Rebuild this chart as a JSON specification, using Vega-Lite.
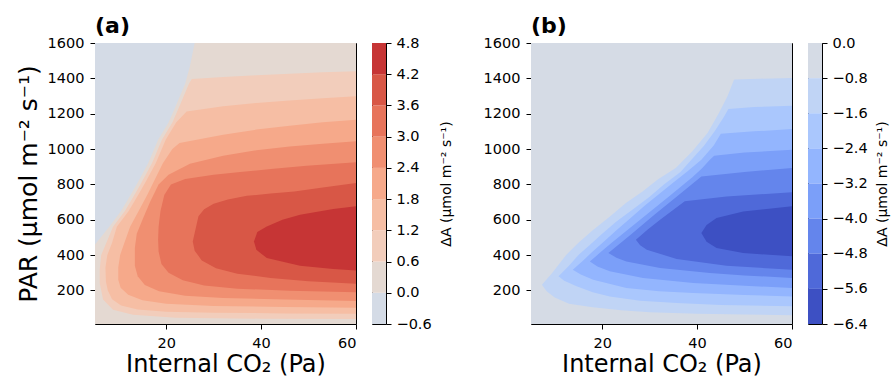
{
  "$schema": "https://vega.github.io/schema/vega-lite/v6.json",
  "padding": {"left": 15, "top": 14, "right": 5, "bottom": 0},
  "config": {
    "font": "DejaVu Sans",
    "view": {"stroke": "#000", "strokeWidth": 1},
    "axis": {"labelFontSize": 14.5, "labelColor": "#000", "tickColor": "#000", "tickSize": 5, "tickWidth": 1, "domain": false, "grid": false, "titleFontWeight": "normal", "titleColor": "#000"}
  },
  "datasets": {
    "a": [
      {"lev":-0.6,"x":5,"y":10},{"lev":-0.6,"x":5,"y":1600},
      {"lev":0,"x":5,"y":10},{"lev":0,"x":5,"y":460},{"lev":0,"x":8,"y":560},{"lev":0,"x":10.5,"y":650},{"lev":0,"x":12.5,"y":740},{"lev":0,"x":14,"y":810},{"lev":0,"x":16.2,"y":920},{"lev":0,"x":18.3,"y":1053},{"lev":0,"x":20.5,"y":1150},{"lev":0,"x":22,"y":1242},{"lev":0,"x":24,"y":1370},{"lev":0,"x":25,"y":1468},{"lev":0,"x":26,"y":1600},
      {"lev":0.6,"x":60,"y":38},{"lev":0.6,"x":40,"y":40},{"lev":0.6,"x":22,"y":46},{"lev":0.6,"x":13,"y":62},{"lev":0.6,"x":8.8,"y":90},{"lev":0.6,"x":6.7,"y":148},{"lev":0.6,"x":6,"y":240},{"lev":0.6,"x":6,"y":320},{"lev":0.6,"x":6.3,"y":400},{"lev":0.6,"x":7.4,"y":470},{"lev":0.6,"x":8.8,"y":560},{"lev":0.6,"x":11.3,"y":650},{"lev":0.6,"x":13.3,"y":740},{"lev":0.6,"x":14.8,"y":810},{"lev":0.6,"x":17,"y":920},{"lev":0.6,"x":19.1,"y":1053},{"lev":0.6,"x":21.3,"y":1150},{"lev":0.6,"x":22.8,"y":1242},{"lev":0.6,"x":24.8,"y":1370},{"lev":0.6,"x":25.4,"y":1396},{"lev":0.6,"x":32,"y":1408},{"lev":0.6,"x":39,"y":1417},{"lev":0.6,"x":46,"y":1426},{"lev":0.6,"x":53,"y":1434},{"lev":0.6,"x":60,"y":1440},
      {"lev":1.2,"x":60,"y":68},{"lev":1.2,"x":45,"y":70},{"lev":1.2,"x":30,"y":74},{"lev":1.2,"x":20,"y":80},{"lev":1.2,"x":14,"y":92},{"lev":1.2,"x":10.5,"y":115},{"lev":1.2,"x":8.6,"y":150},{"lev":1.2,"x":7.7,"y":200},{"lev":1.2,"x":7.3,"y":250},{"lev":1.2,"x":7.2,"y":330},{"lev":1.2,"x":7.6,"y":400},{"lev":1.2,"x":8.6,"y":470},{"lev":1.2,"x":9.6,"y":560},{"lev":1.2,"x":12.1,"y":650},{"lev":1.2,"x":14.1,"y":740},{"lev":1.2,"x":15.6,"y":810},{"lev":1.2,"x":17.8,"y":920},{"lev":1.2,"x":19.9,"y":1053},{"lev":1.2,"x":22.1,"y":1150},{"lev":1.2,"x":24.3,"y":1213},{"lev":1.2,"x":32,"y":1242},{"lev":1.2,"x":39,"y":1261},{"lev":1.2,"x":46,"y":1274},{"lev":1.2,"x":53,"y":1287},{"lev":1.2,"x":60,"y":1298},
      {"lev":1.8,"x":60,"y":102},{"lev":1.8,"x":45,"y":106},{"lev":1.8,"x":30,"y":112},{"lev":1.8,"x":20,"y":125},{"lev":1.8,"x":15,"y":145},{"lev":1.8,"x":12,"y":175},{"lev":1.8,"x":10.4,"y":215},{"lev":1.8,"x":9.9,"y":260},{"lev":1.8,"x":9.9,"y":330},{"lev":1.8,"x":10.3,"y":400},{"lev":1.8,"x":11.2,"y":470},{"lev":1.8,"x":12.4,"y":560},{"lev":1.8,"x":14.2,"y":650},{"lev":1.8,"x":16,"y":740},{"lev":1.8,"x":17.3,"y":810},{"lev":1.8,"x":19.3,"y":920},{"lev":1.8,"x":21.3,"y":1000},{"lev":1.8,"x":22.8,"y":1034},{"lev":1.8,"x":32,"y":1081},{"lev":1.8,"x":39,"y":1110},{"lev":1.8,"x":46,"y":1132},{"lev":1.8,"x":53,"y":1151},{"lev":1.8,"x":60,"y":1166},
      {"lev":2.4,"x":60,"y":140},{"lev":2.4,"x":45,"y":148},{"lev":2.4,"x":32,"y":157},{"lev":2.4,"x":24,"y":170},{"lev":2.4,"x":18.5,"y":195},{"lev":2.4,"x":15.5,"y":230},{"lev":2.4,"x":14,"y":280},{"lev":2.4,"x":13.4,"y":340},{"lev":2.4,"x":13.4,"y":440},{"lev":2.4,"x":13.8,"y":520},{"lev":2.4,"x":15,"y":600},{"lev":2.4,"x":16.6,"y":700},{"lev":2.4,"x":18.4,"y":800},{"lev":2.4,"x":20.5,"y":855},{"lev":2.4,"x":25,"y":917},{"lev":2.4,"x":32,"y":962},{"lev":2.4,"x":39,"y":993},{"lev":2.4,"x":46,"y":1015},{"lev":2.4,"x":53,"y":1030},{"lev":2.4,"x":60,"y":1044},
      {"lev":3,"x":60,"y":189},{"lev":3,"x":46,"y":198},{"lev":3,"x":35,"y":210},{"lev":3,"x":28,"y":228},{"lev":3,"x":23.5,"y":258},{"lev":3,"x":20.5,"y":300},{"lev":3,"x":19,"y":350},{"lev":3,"x":18.4,"y":420},{"lev":3,"x":18.3,"y":487},{"lev":3,"x":18.4,"y":560},{"lev":3,"x":18.8,"y":650},{"lev":3,"x":19.6,"y":740},{"lev":3,"x":21,"y":800},{"lev":3,"x":24,"y":830},{"lev":3,"x":30,"y":855},{"lev":3,"x":35.6,"y":870},{"lev":3,"x":42.6,"y":888},{"lev":3,"x":49.6,"y":906},{"lev":3,"x":60,"y":925},
      {"lev":3.6,"x":60,"y":238},{"lev":3.6,"x":50,"y":252},{"lev":3.6,"x":42,"y":270},{"lev":3.6,"x":35,"y":295},{"lev":3.6,"x":30.5,"y":325},{"lev":3.6,"x":27.5,"y":370},{"lev":3.6,"x":26,"y":425},{"lev":3.6,"x":25.6,"y":477},{"lev":3.6,"x":26.3,"y":560},{"lev":3.6,"x":26.8,"y":619},{"lev":3.6,"x":28,"y":660},{"lev":3.6,"x":30,"y":690},{"lev":3.6,"x":33,"y":715},{"lev":3.6,"x":37,"y":735},{"lev":3.6,"x":42,"y":748},{"lev":3.6,"x":47,"y":760},{"lev":3.6,"x":53,"y":783},{"lev":3.6,"x":60,"y":808},
      {"lev":4.2,"x":60,"y":313},{"lev":4.2,"x":55.2,"y":321},{"lev":4.2,"x":48.2,"y":340},{"lev":4.2,"x":41.2,"y":383},{"lev":4.2,"x":39,"y":430},{"lev":4.2,"x":38.5,"y":477},{"lev":4.2,"x":39.2,"y":530},{"lev":4.2,"x":41.2,"y":562},{"lev":4.2,"x":44.5,"y":600},{"lev":4.2,"x":48.2,"y":628},{"lev":4.2,"x":55.2,"y":661},{"lev":4.2,"x":60,"y":676}
    ],
    "b": [
      {"lev":0,"x":5,"y":10},{"lev":0,"x":5,"y":1600},
      {"lev":-0.8,"x":60,"y":60},{"lev":-0.8,"x":50,"y":64},{"lev":-0.8,"x":40,"y":68},{"lev":-0.8,"x":30,"y":76},{"lev":-0.8,"x":24,"y":88},{"lev":-0.8,"x":18,"y":105},{"lev":-0.8,"x":13,"y":125},{"lev":-0.8,"x":10,"y":160},{"lev":-0.8,"x":8.3,"y":195},{"lev":-0.8,"x":7.3,"y":232},{"lev":-0.8,"x":9.5,"y":300},{"lev":-0.8,"x":12.4,"y":400},{"lev":-0.8,"x":15,"y":470},{"lev":-0.8,"x":18,"y":540},{"lev":-0.8,"x":21.5,"y":615},{"lev":-0.8,"x":25,"y":694},{"lev":-0.8,"x":28.5,"y":760},{"lev":-0.8,"x":31.7,"y":827},{"lev":-0.8,"x":35.5,"y":893},{"lev":-0.8,"x":39,"y":987},{"lev":-0.8,"x":42.2,"y":1091},{"lev":-0.8,"x":44.6,"y":1204},{"lev":-0.8,"x":46.4,"y":1298},{"lev":-0.8,"x":47.8,"y":1393},{"lev":-0.8,"x":53,"y":1398},{"lev":-0.8,"x":60,"y":1402},
      {"lev":-1.6,"x":60,"y":110},{"lev":-1.6,"x":45,"y":118},{"lev":-1.6,"x":35.7,"y":129},{"lev":-1.6,"x":28,"y":142},{"lev":-1.6,"x":21.6,"y":166},{"lev":-1.6,"x":18,"y":190},{"lev":-1.6,"x":14.6,"y":223},{"lev":-1.6,"x":12,"y":255},{"lev":-1.6,"x":10.8,"y":280},{"lev":-1.6,"x":13,"y":340},{"lev":-1.6,"x":15,"y":400},{"lev":-1.6,"x":17.5,"y":460},{"lev":-1.6,"x":20,"y":520},{"lev":-1.6,"x":23,"y":590},{"lev":-1.6,"x":26.5,"y":660},{"lev":-1.6,"x":30,"y":730},{"lev":-1.6,"x":33,"y":800},{"lev":-1.6,"x":36.5,"y":870},{"lev":-1.6,"x":38.8,"y":940},{"lev":-1.6,"x":41.5,"y":1020},{"lev":-1.6,"x":43.7,"y":1100},{"lev":-1.6,"x":45.6,"y":1180},{"lev":-1.6,"x":46.6,"y":1227},{"lev":-1.6,"x":52,"y":1238},{"lev":-1.6,"x":60,"y":1245},
      {"lev":-2.4,"x":60,"y":166},{"lev":-2.4,"x":50,"y":174},{"lev":-2.4,"x":39.2,"y":185},{"lev":-2.4,"x":32,"y":196},{"lev":-2.4,"x":25.1,"y":214},{"lev":-2.4,"x":18.1,"y":261},{"lev":-2.4,"x":15.5,"y":290},{"lev":-2.4,"x":13.8,"y":317},{"lev":-2.4,"x":16,"y":370},{"lev":-2.4,"x":18,"y":420},{"lev":-2.4,"x":20.5,"y":480},{"lev":-2.4,"x":23,"y":540},{"lev":-2.4,"x":26,"y":610},{"lev":-2.4,"x":29,"y":680},{"lev":-2.4,"x":32,"y":745},{"lev":-2.4,"x":35,"y":810},{"lev":-2.4,"x":38,"y":875},{"lev":-2.4,"x":40.9,"y":940},{"lev":-2.4,"x":43.5,"y":1020},{"lev":-2.4,"x":45,"y":1087},{"lev":-2.4,"x":52,"y":1100},{"lev":-2.4,"x":60,"y":1113},
      {"lev":-3.2,"x":60,"y":214},{"lev":-3.2,"x":50,"y":226},{"lev":-3.2,"x":39.2,"y":242},{"lev":-3.2,"x":28.6,"y":270},{"lev":-3.2,"x":21.6,"y":308},{"lev":-3.2,"x":19,"y":335},{"lev":-3.2,"x":17.4,"y":364},{"lev":-3.2,"x":19.7,"y":417},{"lev":-3.2,"x":22,"y":470},{"lev":-3.2,"x":25,"y":535},{"lev":-3.2,"x":28,"y":600},{"lev":-3.2,"x":31,"y":665},{"lev":-3.2,"x":34,"y":730},{"lev":-3.2,"x":36.5,"y":785},{"lev":-3.2,"x":39,"y":840},{"lev":-3.2,"x":41,"y":890},{"lev":-3.2,"x":42.7,"y":940},{"lev":-3.2,"x":43.6,"y":962},{"lev":-3.2,"x":50,"y":980},{"lev":-3.2,"x":60,"y":996},
      {"lev":-4,"x":60,"y":270},{"lev":-4,"x":50,"y":285},{"lev":-4,"x":42.7,"y":299},{"lev":-4,"x":32.2,"y":327},{"lev":-4,"x":25.1,"y":364},{"lev":-4,"x":23,"y":385},{"lev":-4,"x":21.3,"y":412},{"lev":-4,"x":26,"y":515},{"lev":-4,"x":31,"y":628},{"lev":-4,"x":36,"y":737},{"lev":-4,"x":40.9,"y":845},{"lev":-4,"x":50,"y":870},{"lev":-4,"x":60,"y":893},
      {"lev":-4.8,"x":60,"y":317},{"lev":-4.8,"x":46.2,"y":340},{"lev":-4.8,"x":35.7,"y":378},{"lev":-4.8,"x":29.4,"y":430},{"lev":-4.8,"x":28,"y":455},{"lev":-4.8,"x":27.1,"y":487},{"lev":-4.8,"x":29.6,"y":545},{"lev":-4.8,"x":32.2,"y":600},{"lev":-4.8,"x":34.8,"y":652},{"lev":-4.8,"x":37.4,"y":704},{"lev":-4.8,"x":46.2,"y":732},{"lev":-4.8,"x":60,"y":755},
      {"lev":-5.6,"x":60,"y":393},{"lev":-5.6,"x":49.7,"y":412},{"lev":-5.6,"x":44.1,"y":440},{"lev":-5.6,"x":42,"y":475},{"lev":-5.6,"x":40.9,"y":525},{"lev":-5.6,"x":42,"y":570},{"lev":-5.6,"x":44.1,"y":610},{"lev":-5.6,"x":49.7,"y":647},{"lev":-5.6,"x":60,"y":676}
    ],
    "cba": [
      {"lev":-0.6,"lo":-0.6,"hi":0},{"lev":0,"lo":0,"hi":0.6},{"lev":0.6,"lo":0.6,"hi":1.2},{"lev":1.2,"lo":1.2,"hi":1.8},{"lev":1.8,"lo":1.8,"hi":2.4},{"lev":2.4,"lo":2.4,"hi":3},{"lev":3,"lo":3,"hi":3.6},{"lev":3.6,"lo":3.6,"hi":4.2},{"lev":4.2,"lo":4.2,"hi":4.8}
    ],
    "cbb": [
      {"lev":0,"lo":-0.8,"hi":0},{"lev":-0.8,"lo":-1.6,"hi":-0.8},{"lev":-1.6,"lo":-2.4,"hi":-1.6},{"lev":-2.4,"lo":-3.2,"hi":-2.4},{"lev":-3.2,"lo":-4,"hi":-3.2},{"lev":-4,"lo":-4.8,"hi":-4},{"lev":-4.8,"lo":-5.6,"hi":-4.8},{"lev":-5.6,"lo":-6.4,"hi":-5.6}
    ]
  },
  "spacing": 28,
  "hconcat": [
    {
      "spacing": 16,
      "bounds": "flush",
      "hconcat": [
        {
          "width": 261, "height": 281,
          "title": {"text": "(a)", "anchor": "start", "frame": "group", "fontSize": 22, "fontWeight": "bold", "offset": -3, "color": "#000"},
          "data": {"name": "a"},
          "mark": {"type": "area", "orient": "horizontal"},
          "encoding": {
            "y": {"field": "y", "type": "quantitative", "scale": {"domain": [10, 1600], "nice": false, "zero": false},
                  "axis": {"values": [200,400,600,800,1000,1200,1400,1600], "format": "d", "labelPadding": 6, "title": "PAR (μmol m⁻² s⁻¹)", "titleFontSize": 25, "titlePadding": 6}},
            "x": {"field": "x", "type": "quantitative", "stack": null, "scale": {"domain": [5, 60], "nice": false, "zero": false},
                  "axis": {"values": [20,40,60], "labelPadding": 7, "title": "Internal CO₂ (Pa)", "titleFontSize": 24, "titlePadding": 3}},
            "x2": {"datum": 60},
            "color": {"field": "lev", "type": "ordinal", "legend": null,
                      "scale": {"domain": [-0.6,0,0.6,1.2,1.8,2.4,3,3.6,4.2], "range": ["#d4dbe6","#e4d9d2","#f2cdbb","#f6bea4","#f6a98a","#f08f71","#e7745b","#d85746","#c63535"]}}
          }
        },
        {
          "width": 14, "height": 281,
          "data": {"name": "cba"},
          "mark": {"type": "rect"},
          "encoding": {
            "x": {"datum": 0, "type": "quantitative", "scale": {"domain": [0, 1]}, "axis": null},
            "x2": {"datum": 1},
            "y": {"field": "lo", "type": "quantitative", "scale": {"domain": [-0.6, 4.8], "nice": false, "zero": false},
                  "axis": {"orient": "right", "values": [-0.6,0,0.6,1.2,1.8,2.4,3,3.6,4.2,4.8], "format": ".1f", "labelPadding": 5, "title": "ΔA (μmol m⁻² s⁻¹)", "titleFontSize": 14, "titleAngle": 270, "titleBaseline": "top", "titlePadding": 8}},
            "y2": {"field": "hi"},
            "color": {"field": "lev", "type": "ordinal", "legend": null,
                      "scale": {"domain": [-0.6,0,0.6,1.2,1.8,2.4,3,3.6,4.2], "range": ["#d4dbe6","#e4d9d2","#f2cdbb","#f6bea4","#f6a98a","#f08f71","#e7745b","#d85746","#c63535"]}}
          }
        }
      ]
    },
    {
      "spacing": 16,
      "bounds": "flush",
      "hconcat": [
        {
          "width": 261, "height": 281,
          "title": {"text": "(b)", "anchor": "start", "frame": "group", "fontSize": 22, "fontWeight": "bold", "offset": -3, "color": "#000"},
          "data": {"name": "b"},
          "mark": {"type": "area", "orient": "horizontal"},
          "encoding": {
            "y": {"field": "y", "type": "quantitative", "scale": {"domain": [10, 1600], "nice": false, "zero": false},
                  "axis": {"values": [200,400,600,800,1000,1200,1400,1600], "format": "d", "labelPadding": 6, "title": null}},
            "x": {"field": "x", "type": "quantitative", "stack": null, "scale": {"domain": [5, 60], "nice": false, "zero": false},
                  "axis": {"values": [20,40,60], "labelPadding": 7, "title": "Internal CO₂ (Pa)", "titleFontSize": 24, "titlePadding": 3}},
            "x2": {"datum": 60},
            "color": {"field": "lev", "type": "ordinal", "legend": null,
                      "scale": {"domain": [0,-0.8,-1.6,-2.4,-3.2,-4,-4.8,-5.6], "range": ["#d5dbe5","#c0d4f5","#aac7fd","#93b5fe","#7b9ff9","#6485ec","#4f69d9","#3d50c3"]}}
          }
        },
        {
          "width": 14, "height": 281,
          "data": {"name": "cbb"},
          "mark": {"type": "rect"},
          "encoding": {
            "x": {"datum": 0, "type": "quantitative", "scale": {"domain": [0, 1]}, "axis": null},
            "x2": {"datum": 1},
            "y": {"field": "lo", "type": "quantitative", "scale": {"domain": [-6.4, 0], "nice": false, "zero": false},
                  "axis": {"orient": "right", "values": [-6.4,-5.6,-4.8,-4,-3.2,-2.4,-1.6,-0.8,0], "format": ".1f", "labelPadding": 5, "title": "ΔA (μmol m⁻² s⁻¹)", "titleFontSize": 14, "titleAngle": 270, "titleBaseline": "top", "titlePadding": 8}},
            "y2": {"field": "hi"},
            "color": {"field": "lev", "type": "ordinal", "legend": null,
                      "scale": {"domain": [0,-0.8,-1.6,-2.4,-3.2,-4,-4.8,-5.6], "range": ["#d5dbe5","#c0d4f5","#aac7fd","#93b5fe","#7b9ff9","#6485ec","#4f69d9","#3d50c3"]}}
          }
        }
      ]
    }
  ],
  "resolve": {"scale": {"color": "independent", "x": "independent", "y": "independent"}}
}
